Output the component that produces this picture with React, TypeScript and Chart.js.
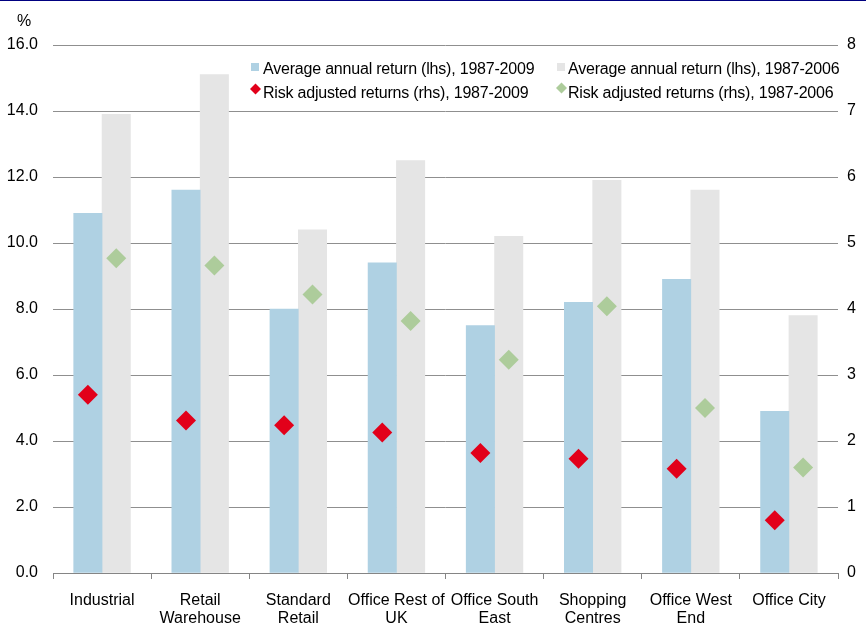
import React, { useEffect, useRef } from "react";
import { Chart, registerables } from "chart.js";

Chart.register(...registerables);

// Property sectors
const categories: (string | string[])[] = [
  "Industrial",
  ["Retail", "Warehouse"],
  ["Standard", "Retail"],
  ["Office Rest of", "UK"],
  ["Office South", "East"],
  ["Shopping", "Centres"],
  ["Office West", "End"],
  "Office City",
];

// Average annual return, % (left axis)
const avgReturn2009 = [10.9, 11.6, 8.0, 9.4, 7.5, 8.2, 8.9, 4.9];
const avgReturn2006 = [13.9, 15.1, 10.4, 12.5, 10.2, 11.9, 11.6, 7.8];

// Risk adjusted returns (right axis)
const riskAdj2009 = [2.7, 2.31, 2.24, 2.13, 1.82, 1.73, 1.58, 0.8];
const riskAdj2006 = [4.77, 4.66, 4.22, 3.82, 3.23, 4.04, 2.5, 1.6];

// Axis ticks
const leftTicks = [0, 2, 4, 6, 8, 10, 12, 14, 16];
const rightTicks = [0, 1, 2, 3, 4, 5, 6, 7, 8];

const labelAvg2009 = "Average annual return (lhs), 1987-2009";
const labelAvg2006 = "Average annual return (lhs), 1987-2006";
const labelRisk2009 = "Risk adjusted returns (rhs), 1987-2009";
const labelRisk2006 = "Risk adjusted returns (rhs), 1987-2006";

const BLUE = "#AFD1E3";
const GREY = "#E5E5E5";
const RED = "#E2001A";
const GREEN = "#ADCC9B";
const FONT = '"Liberation Sans", Arial, sans-serif';

// Each bar covers this fraction of a category; the pair sits side by side
// around the category centre, and each diamond sits over its own bar.
const BAR_SHARE = 0.289;
const SHIFT = BAR_SHARE / 2;

const atSlot = (values: number[], side: number) =>
  values.map((v, i) => ({ x: i + side * SHIFT, y: v }));

const overlay = {
  id: "overlay",
  afterDraw(chart: Chart) {
    const ctx = chart.ctx as any;
    ctx.save();
    ctx.fillStyle = "#000";
    ctx.font = `16px ${FONT}`;
    ctx.textBaseline = "alphabetic";
    ctx.textAlign = "left";
    ctx.fillText("%", 17, 26);

    const ds = chart.data.datasets as any[];
    const square = (x: number, y: number, color: string) => {
      ctx.fillStyle = color;
      ctx.fillRect(x, y, 8, 8);
    };
    const diamond = (cx: number, cy: number, r: number, color: string) => {
      ctx.fillStyle = color;
      ctx.beginPath();
      ctx.moveTo(cx - r, cy);
      ctx.lineTo(cx, cy - r);
      ctx.lineTo(cx + r, cy);
      ctx.lineTo(cx, cy + r);
      ctx.closePath();
      ctx.fill();
    };

    const col1 = 251;
    const col2 = 557;
    square(col1, 63, ds[0].backgroundColor);
    square(col2, 63, ds[1].backgroundColor);
    diamond(col1 + 4.5, 89, 5.5, ds[2].backgroundColor);
    diamond(col2 + 4.5, 88, 5.5, ds[3].backgroundColor);

    ctx.fillStyle = "#000";
    if ("letterSpacing" in ctx) ctx.letterSpacing = "-0.2px";
    ctx.fillText(ds[0].label, 263, 74);
    ctx.fillText(ds[1].label, 568, 74);
    ctx.fillText(ds[2].label, 263, 98);
    ctx.fillText(ds[3].label, 568, 98);
    if ("letterSpacing" in ctx) ctx.letterSpacing = "0px";

    // thin rule across the top
    ctx.fillStyle = "#000080";
    ctx.fillRect(0, 0, chart.width, 1);
    ctx.restore();
  },
};

export default function App() {
  const canvasRef = useRef<HTMLCanvasElement | null>(null);

  useEffect(() => {
    document.body.style.margin = "0";
    const canvas = canvasRef.current;
    if (!canvas) return;

    const barCommon = {
      type: "bar",
      xAxisID: "xs",
      yAxisID: "y",
      grouped: false,
      categoryPercentage: 1,
      barPercentage: 1,
      order: 1,
    };
    const diamondCommon = {
      type: "scatter",
      xAxisID: "xs",
      yAxisID: "y1",
      borderWidth: 0,
      pointStyle: "rectRot",
      pointRadius: 10,
      order: 0,
    };

    const chart = new Chart(canvas, {
      type: "bar",
      data: {
        labels: categories,
        datasets: [
          { ...barCommon, label: labelAvg2009, data: atSlot(avgReturn2009, -1), backgroundColor: BLUE },
          { ...barCommon, label: labelAvg2006, data: atSlot(avgReturn2006, 1), backgroundColor: GREY },
          { ...diamondCommon, label: labelRisk2009, data: atSlot(riskAdj2009, -1), backgroundColor: RED },
          { ...diamondCommon, label: labelRisk2006, data: atSlot(riskAdj2006, 1), backgroundColor: GREEN },
        ] as any,
      },
      options: {
        animation: false,
        responsive: false,
        devicePixelRatio: 1,
        layout: { padding: { top: 45, left: 0, right: 0, bottom: 0 } },
        plugins: {
          legend: { display: false },
          tooltip: { enabled: false },
        },
        events: [],
        scales: {
          x: {
            type: "category",
            position: "bottom",
            offset: true,
            grid: {
              display: true,
              drawOnChartArea: false,
              drawTicks: true,
              tickLength: 6,
              offset: true,
              color: "#858585",
            },
            border: { display: true, color: "#858585", width: 1 },
            ticks: {
              color: "#000",
              font: { family: FONT, size: 16, lineHeight: 1.1 },
              padding: 13,
              maxRotation: 0,
              minRotation: 0,
              autoSkip: false,
            },
            afterFit: (s: any) => {
              s.height = 51;
            },
          },
          xs: {
            type: "linear",
            display: false,
            offset: false,
            grid: { offset: false },
            min: -0.5,
            max: 7.5,
          },
          y: {
            type: "linear",
            position: "left",
            min: leftTicks[0],
            max: leftTicks[leftTicks.length - 1],
            afterBuildTicks: (s: any) => {
              s.ticks = leftTicks.map((v) => ({ value: v }));
            },
            grid: { color: "#8f8f8f", drawTicks: false, lineWidth: 1 },
            border: { display: false },
            ticks: {
              color: "#000",
              font: { family: FONT, size: 16 },
              padding: 15,
              callback: (v: any) => Number(v).toFixed(1),
            },
            afterFit: (s: any) => {
              s.width = 53;
            },
          },
          y1: {
            type: "linear",
            position: "right",
            min: rightTicks[0],
            max: rightTicks[rightTicks.length - 1],
            afterBuildTicks: (s: any) => {
              s.ticks = rightTicks.map((v) => ({ value: v }));
            },
            grid: { display: false, drawTicks: false },
            border: { display: false },
            ticks: {
              color: "#000",
              font: { family: FONT, size: 16 },
              padding: 9,
              callback: (v: any) => String(v),
            },
            afterFit: (s: any) => {
              s.width = 28;
            },
          },
        },
      },
      plugins: [overlay],
    } as any);

    return () => chart.destroy();
  }, []);

  return (
    <div style={{ width: 866, height: 624, background: "#fff" }}>
      <canvas ref={canvasRef} width={866} height={624} style={{ display: "block" }} />
    </div>
  );
}
